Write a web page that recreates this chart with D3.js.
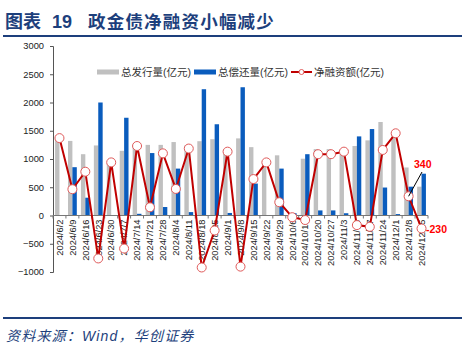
<!DOCTYPE html>
<html>
<head>
<meta charset="utf-8">
<script src="https://cdn.jsdelivr.net/npm/d3@7"></script>
<style>
  body { margin: 0; background: #fff; }
  svg { display: block; }
  text { font-family: "Liberation Sans", Arial, "Noto Sans CJK SC", sans-serif; }
</style>
</head>
<body>
<div id="chart"></div>
<script>
const dates = ["2024/6/2", "2024/6/9", "2024/6/16", "2024/6/23", "2024/6/30", "2024/7/7", "2024/7/14",
    "2024/7/21", "2024/7/28", "2024/8/4", "2024/8/11", "2024/8/18", "2024/8/25", "2024/9/1", "2024/9/8",
    "2024/9/15", "2024/9/22", "2024/9/29", "2024/10/6", "2024/10/13", "2024/10/20", "2024/10/27",
    "2024/11/3", "2024/11/10", "2024/11/17", "2024/11/24", "2024/12/1", "2024/12/8", "2024/12/15"]
const issue = [1370, 1320, 1085, 1240, 940, 1145, 1260, 1250, 1250, 1300, 1245, 1315, 1350, 1175, 1365,
    1210, 940, 1065, 10, 1005, 1175, 1175, 1170, 1230, 1330, 1655, 1480, 850, 510]
const repay = [0, 855, 315, 2000, 0, 1730, 30, 1105, 150, 830, 60, 2235, 1615, 45, 2270,
    565, 0, 830, 40, 1085, 90, 90, 40, 1400, 1530, 495, 25, 510, 740]
const net = [1370, 465, 775, -760, 940, -585, 1230, 145, 1100, 470, 1185, -920, -265, 1130, -905,
    645, 940, 235, -30, -80, 1085, 1085, 1130, -170, -200, 1160, 1455, 340, -230]
const yTicks = [-1000, -500, 0, 500, 1000, 1500, 2000, 2500, 3000]
const seriesNames = ["总发行量(亿元)", "总偿还量(亿元)", "净融资额(亿元)"]

const W = 471, H = 354
const navy = "#1d3f7c"
const gray = "#c0c0c0", blue = "#0a5cbd", red = "#c00000"

const svg = d3.select("#chart").append("svg").attr("width", W).attr("height", H)

// title + rules
svg.append("text").attr("x", 5).attr("y", 28)
    .attr("fill", navy).attr("font-size", 18).attr("font-weight", "bold")
    .attr("font-family", "'Noto Serif CJK SC', 'Noto Sans CJK SC', serif")
    .text("图表")
svg.append("text").attr("x", 52).attr("y", 28)
    .attr("fill", navy).attr("font-size", 18).attr("font-weight", "bold")
    .attr("font-family", "'Liberation Serif', 'DejaVu Serif', serif")
    .text("19")
svg.append("text").attr("x", 88).attr("y", 28)
    .attr("fill", navy).attr("font-size", 17.5).attr("font-weight", "bold")
    .attr("letter-spacing", 1.2)
    .attr("font-family", "'Noto Serif CJK SC', 'Noto Sans CJK SC', serif")
    .text("政金债净融资小幅减少")
svg.append("rect").attr("x", 3).attr("y", 35).attr("width", 459).attr("height", 2).attr("fill", navy)
svg.append("rect").attr("x", 3).attr("y", 317).attr("width", 459).attr("height", 2).attr("fill", navy)
svg.append("text").attr("x", 6).attr("y", 341)
    .attr("fill", navy).attr("font-size", 14).attr("font-style", "italic")
    .attr("letter-spacing", 1.2)
    .attr("font-family", "'Noto Sans CJK SC', sans-serif")
    .text("资料来源：Wind，华创证券")

const x = d3.scaleBand().domain(dates).range([53, 428])
const y = d3.scaleLinear().domain([-1000, 3000]).range([272, 46])
const bw = 4.4

// bars
svg.append("g").selectAll("rect").data(dates).join("rect")
    .attr("x", (d, i) => x(d) + x.bandwidth() / 2 - bw)
    .attr("y", (d, i) => y(Math.max(0, issue[i])))
    .attr("width", bw)
    .attr("height", (d, i) => Math.abs(y(issue[i]) - y(0)))
    .attr("fill", gray)
svg.append("g").selectAll("rect").data(dates).join("rect")
    .attr("x", (d, i) => x(d) + x.bandwidth() / 2)
    .attr("y", (d, i) => y(Math.max(0, repay[i])))
    .attr("width", bw)
    .attr("height", (d, i) => Math.abs(y(repay[i]) - y(0)))
    .attr("fill", blue)

// y axis
const yAxis = svg.append("g").attr("transform", "translate(53,0)")
    .call(d3.axisLeft(y).tickValues(yTicks).tickFormat(d3.format("d")).tickSize(3).tickPadding(6))
yAxis.select(".domain").attr("stroke", "#555")
yAxis.selectAll(".tick line").attr("stroke", "#555")
yAxis.selectAll("text").attr("font-size", 9.3).attr("fill", "#222")

// x axis at zero
const xAxis = svg.append("g").attr("transform", `translate(0,${y(0)})`)
xAxis.append("line").attr("x1", 53).attr("x2", 428).attr("stroke", "#777")
xAxis.selectAll("line.tk").data(d3.range(dates.length + 1)).join("line")
    .attr("class", "tk")
    .attr("x1", i => 53 + i * x.step()).attr("x2", i => 53 + i * x.step())
    .attr("y1", 0).attr("y2", 3).attr("stroke", "#777")
xAxis.selectAll("text").data(dates).join("text")
    .attr("transform", d => `translate(${x(d) + x.bandwidth() / 2 + 3.3},4) rotate(-90)`)
    .attr("text-anchor", "end")
    .attr("font-size", 9.3).attr("fill", "#222")
    .text(d => d)

// net line
const line = d3.line().x((d, i) => x(dates[i]) + x.bandwidth() / 2).y(d => y(d))
svg.append("path").datum(net).attr("d", line)
    .attr("fill", "none").attr("stroke", red).attr("stroke-width", 2)
svg.append("g").selectAll("circle").data(net).join("circle")
    .attr("cx", (d, i) => x(dates[i]) + x.bandwidth() / 2)
    .attr("cy", d => y(d))
    .attr("r", 4.5)
    .attr("fill", "#fff").attr("stroke", "#e05a5a").attr("stroke-width", 1)

// annotations
const last = dates.length - 1
const px = x(dates[last - 1]) + x.bandwidth() / 2
svg.append("line").attr("x1", px).attr("y1", y(net[last - 1]))
    .attr("x2", 422).attr("y2", 172).attr("stroke", "#000").attr("stroke-width", 1)
svg.append("text").attr("x", 414).attr("y", 168)
    .attr("fill", "#ff0000").attr("font-size", 10.5).attr("font-weight", "bold")
    .text(net[last - 1])
svg.append("text").attr("x", 426).attr("y", 233)
    .attr("fill", "#ff0000").attr("font-size", 10.5).attr("font-weight", "bold")
    .text(net[last])

// legend
const lg = svg.append("g").attr("transform", "translate(0,72)")
lg.append("rect").attr("x", 97).attr("y", -2.5).attr("width", 22).attr("height", 5).attr("fill", gray)
lg.append("rect").attr("x", 194).attr("y", -2.5).attr("width", 22).attr("height", 5).attr("fill", blue)
lg.append("line").attr("x1", 291).attr("x2", 312).attr("stroke", red).attr("stroke-width", 2)
lg.append("circle").attr("cx", 301.5).attr("r", 2.5).attr("fill", "#fff").attr("stroke", "#e05a5a")
lg.selectAll("text.lt").data(seriesNames).join("text").attr("class", "lt")
    .attr("x", (d, i) => [121, 218, 314][i]).attr("y", 4)
    .attr("font-size", 10.5).attr("fill", "#333")
    .attr("font-family", "'Noto Sans CJK SC', sans-serif")
    .text(d => d)
</script>
</body>
</html>
